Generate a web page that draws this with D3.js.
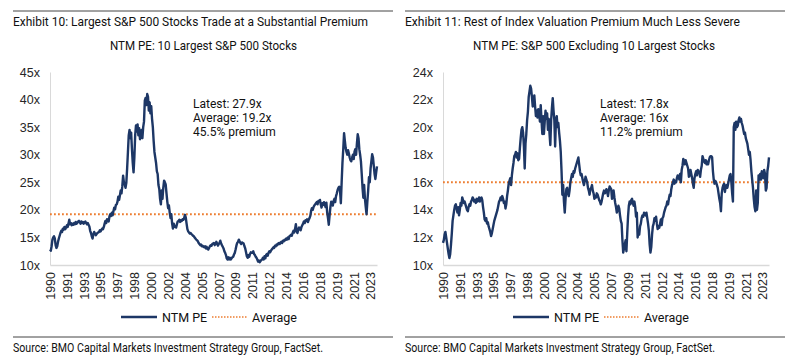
<!DOCTYPE html>
<html>
<head>
<meta charset="utf-8">
<script src="https://cdn.jsdelivr.net/npm/d3@7"></script>
<style>
  body { margin: 0; background: #fff; }
  svg { display: block; font-family: Roboto, "Noto Sans", sans-serif; }
  .tick text { fill: #262626; }
</style>
</head>
<body>
<svg width="800" height="361"></svg>
<script>
// monthly observations, Jan 1990 - Dec 2023
const months = d3.timeMonth.range(new Date(1990, 0, 1), new Date(2024, 0, 1));

// NTM PE: 10 largest S&P 500 stocks (one row per year)
const top10PE = [
  12.8, 12.6, 13.4, 14.6, 15.0, 15.2, 14.8, 13.6, 13.1, 13.4, 14.2, 14.8,
  15.3, 15.8, 16.2, 16.0, 16.6, 16.4, 16.9, 16.5, 16.8, 17.2, 16.9, 17.5,
  18.2, 17.4, 17.6, 17.2, 17.5, 17.3, 17.6, 17.4, 17.8, 17.5, 17.6, 17.9,
  18.0, 17.8, 17.5, 17.9, 17.6, 17.8, 17.5, 17.7, 17.9, 17.6, 17.4, 17.6,
  17.3, 17.0, 16.2, 15.8, 15.2, 14.8, 15.6, 16.0, 15.7, 15.4, 15.6, 15.8,
  15.9, 16.0, 16.3, 16.1, 16.4, 16.6, 16.5, 16.9, 17.5, 18.0, 17.6, 18.3,
  18.2, 17.9, 18.8, 19.2, 18.9, 19.5, 19.0, 19.8, 20.4, 20.1, 20.9, 21.0,
  21.5, 22.4, 21.8, 22.6, 23.5, 23.0, 24.3, 26.2, 25.0, 24.6, 24.0, 24.9,
  27.5, 30.5, 33.5, 34.5, 33.0, 34.0, 31.0, 28.5, 26.8, 29.5, 33.5, 35.3,
  34.2, 35.5, 33.5, 34.8, 32.8, 33.5, 34.5, 33.0, 35.0, 36.0, 39.8, 40.3,
  39.0, 41.0, 40.5, 38.0, 39.5, 37.5, 38.8, 36.5, 35.0, 32.5, 30.5, 29.5,
  28.5, 27.0, 26.5, 24.5, 23.8, 22.0, 21.0, 23.5, 22.0, 24.0, 25.3, 25.0,
  24.6, 23.0, 21.5, 20.3, 20.8, 19.5, 18.5, 19.2, 17.5, 16.6, 17.5, 17.0,
  16.9, 16.8, 17.4, 17.9, 18.0, 18.2, 17.8, 18.1, 18.0, 18.3, 18.2, 18.5,
  19.1, 18.6, 17.5, 16.5, 16.1, 15.9, 15.7, 15.8, 15.6, 15.5, 15.3, 15.2,
  15.0, 14.8, 14.6, 14.5, 14.3, 14.0, 13.8, 13.6, 13.7, 13.4, 13.5, 13.3,
  13.2, 13.4, 13.0, 13.3, 12.9, 12.8, 13.1, 13.4, 13.6, 13.5, 13.8, 13.9,
  14.0, 13.6, 13.8, 14.2, 13.9, 13.5, 13.8, 14.0, 14.4, 13.9, 13.6, 13.3,
  13.0, 12.5, 12.2, 11.8, 11.2, 11.0, 11.4, 11.0, 11.3, 11.0, 11.2, 11.4,
  11.5, 11.9, 12.2, 12.8, 13.5, 14.0, 14.2, 14.6, 14.3, 14.0, 13.8, 14.1,
  14.0, 13.9, 13.4, 13.0, 12.3, 11.6, 11.3, 11.8, 11.5, 12.0, 12.3, 12.2,
  12.2, 12.5, 12.0, 11.8, 11.5, 11.3, 11.0, 10.6, 10.8, 10.5, 10.7, 10.9,
  11.0, 11.3, 11.0, 11.6, 11.2, 11.8, 12.0, 11.7, 12.2, 12.5, 12.3, 12.6,
  12.8, 13.0, 13.2, 13.1, 13.5, 13.4, 13.7, 13.6, 13.9, 14.0, 13.8, 14.1,
  14.2, 14.0, 14.4, 14.3, 14.6, 14.5, 14.8, 14.6, 15.0, 14.7, 15.2, 15.3,
  15.5, 15.3, 15.8, 16.2, 15.9, 16.5, 17.4, 16.2, 15.8, 16.4, 16.8, 16.7,
  16.3, 16.9, 17.2, 17.5, 17.9, 17.6, 18.1, 18.0, 18.3, 17.8, 18.2, 18.5,
  18.9, 19.8, 20.3, 20.0, 20.5, 20.8, 21.0, 21.2, 21.4, 21.0, 21.6, 21.5,
  21.8, 21.0, 20.4, 21.2, 20.9, 21.4, 21.0, 20.5, 21.3, 19.5, 18.5, 17.3,
  19.0, 20.5, 21.5, 21.0, 20.8, 21.6, 22.0, 21.4, 22.5, 23.0, 23.6, 24.0,
  24.2, 23.5, 21.2, 25.0, 28.5, 31.0, 33.9, 32.5, 31.2, 30.5, 30.0, 30.8,
  30.2, 29.5, 29.0, 28.8, 29.5, 30.0, 29.2, 30.5, 31.0, 30.0, 32.0, 33.7,
  33.0, 31.0, 30.0, 28.8, 26.5, 24.0, 22.2, 24.5, 22.0, 20.5, 19.2, 21.5,
  23.5, 25.9, 25.0, 27.5, 28.8, 30.1, 29.5, 28.0, 26.5, 25.6, 26.8, 27.9
];

// NTM PE: S&P 500 excluding the 10 largest stocks
const restPE = [
  11.6, 11.8, 12.2, 12.4, 12.0, 11.6, 11.2, 10.8, 10.5, 10.8, 11.5, 12.3,
  13.2, 13.6, 14.0, 14.3, 14.4, 14.1, 13.8, 14.2, 13.6, 14.0, 14.5, 14.3,
  14.9, 14.7, 14.5, 14.6, 14.4, 14.2, 14.0, 13.9, 14.2, 14.4, 14.3, 14.6,
  14.7, 14.9, 14.8, 14.6, 14.7, 14.5, 14.8, 14.6, 14.7, 14.9, 14.6, 14.8,
  14.9, 14.7, 14.2, 13.8, 13.3, 13.2, 13.4, 13.0, 13.1, 12.8, 12.6, 12.4,
  12.1, 12.3, 12.6, 12.9, 13.2, 13.4, 13.6, 13.8, 14.0, 14.3, 14.6, 14.7,
  14.9, 14.7, 15.0, 14.8, 14.5, 14.6, 14.1, 14.4, 15.0, 15.4, 15.9, 16.1,
  16.3, 15.8, 16.5, 17.0, 17.4, 17.9, 18.0, 18.2, 17.8, 18.1, 17.6, 17.7,
  18.5, 19.2, 19.8, 20.0, 19.6, 18.6, 17.0, 18.8, 19.5, 20.5, 21.1, 22.2,
  22.6, 23.0, 22.8, 22.2, 21.5, 21.9, 22.3, 21.5, 20.8, 21.2, 20.7, 21.3,
  21.0, 20.4, 21.6, 20.5, 19.5, 20.8, 19.5, 20.4, 21.2, 20.6, 21.0, 19.8,
  20.6, 19.5, 18.7, 20.5, 21.4, 22.1, 21.2, 20.5, 18.6, 20.5, 20.8, 20.0,
  20.3, 19.6, 19.0, 18.2, 16.8, 15.1, 15.8, 14.6, 13.8, 14.8, 15.5, 15.6,
  15.2, 15.0, 15.4, 16.0, 16.3, 16.6, 16.4, 16.8, 16.7, 17.0, 17.2, 17.4,
  17.6, 17.8, 17.3, 16.8, 16.5, 16.6, 16.3, 16.0, 15.8, 16.1, 16.4, 16.2,
  16.0, 15.6, 15.4, 15.1, 15.5, 15.6, 15.8, 15.4, 15.2, 14.8, 15.0, 14.9,
  15.2, 15.1, 14.9, 14.7, 14.6, 14.4, 14.6, 14.9, 15.2, 15.4, 15.2, 15.3,
  15.5, 15.3, 15.0, 15.4, 15.7, 15.6, 15.5, 14.8, 15.0, 15.4, 14.9, 14.5,
  14.2, 13.8, 14.0, 14.3, 14.1, 13.6, 13.2, 13.0, 11.8, 10.9, 11.2, 11.5,
  11.8, 11.0, 12.3, 13.5, 14.3, 14.6, 14.4, 14.7, 14.8, 14.5, 14.3, 14.6,
  14.2, 13.5, 13.8, 12.0, 12.5, 12.2, 12.8, 13.0, 13.4, 13.6, 13.5, 13.8,
  13.7, 13.6, 13.8, 13.4, 13.0, 12.5, 11.5, 10.9, 11.3, 12.2, 12.8, 13.0,
  13.4, 13.2, 13.5, 13.0, 12.6, 12.8, 12.7, 13.0, 13.3, 12.9, 13.4, 13.5,
  13.8, 14.0, 14.2, 14.3, 14.6, 14.4, 14.8, 15.1, 15.0, 15.5, 15.8, 16.0,
  16.2, 15.9, 16.1, 16.0, 16.3, 16.5, 16.4, 16.2, 16.6, 16.0, 16.9, 17.2,
  17.7, 17.5, 17.3, 17.6, 17.4, 17.2, 17.0, 16.4, 16.5, 16.9, 16.6, 16.3,
  15.9, 15.6, 16.3, 16.6, 16.8, 16.5, 16.9, 16.8, 16.7, 16.4, 16.9, 17.2,
  17.9, 17.7, 17.5, 17.4, 17.6, 17.3, 17.5, 17.3, 17.6, 17.8, 17.9, 17.9,
  17.8, 16.8, 16.2, 15.9, 16.1, 16.0, 15.8, 15.6, 15.2, 14.8, 14.5, 13.9,
  15.2, 15.6, 15.8, 15.9, 15.3, 15.7, 15.8, 15.6, 15.9, 16.2, 16.5, 16.6,
  16.0, 15.2, 14.6, 20.0, 20.3, 19.8, 20.4, 20.0, 20.1, 20.5, 20.7, 20.4,
  20.6, 20.3, 20.1, 19.8, 19.5, 19.6, 19.2, 19.0, 18.8, 18.4, 18.0, 18.2,
  17.6, 16.8, 16.2, 15.6, 14.8, 14.2, 13.9, 15.4, 14.0, 14.5, 16.5, 16.2,
  16.6, 16.2, 16.8, 16.5, 16.3, 16.9, 16.6, 15.4, 15.6, 16.8, 17.2, 17.8
];

const leftTicks = [10, 15, 20, 25, 30, 35, 40, 45];
const rightTicks = [10, 12, 14, 16, 18, 20, 22, 24];
const leftAverage = 19.2;
const rightAverage = 16;
const leftNotes = ['Latest: 27.9x', 'Average: 19.2x', '45.5% premium'];
const rightNotes = ['Latest: 17.8x', 'Average: 16x', '11.2% premium'];
const legendLabels = ['NTM PE', 'Average'];
const sourceText = 'Source: BMO Capital Markets Investment Strategy Group, FactSet.';

// a year label every 21 months, as in the original axis
const xTickMonths = months.filter((d, i) => i % 21 === 0);

const navy = '#1d3766';
const orange = '#ed7d31';
const svg = d3.select('svg');

function drawPanel(cfg) {
  const g = svg.append('g');

  const x = d3.scalePoint()
    .domain(months)
    .range([cfg.left, cfg.right]);

  const y = d3.scaleLinear()
    .domain(cfg.yDomain)
    .range([265, 72]);

  // header rule + titles
  g.append('line')
    .attr('x1', cfg.ruleX[0]).attr('x2', cfg.ruleX[1])
    .attr('y1', 11).attr('y2', 11)
    .attr('stroke', '#444').attr('stroke-width', 1);

  g.append('text')
    .attr('x', cfg.ruleX[0])
    .attr('y', 26)
    .attr('font-size', 12.5)
    .attr('fill', '#111')
    .attr('textLength', cfg.titleWidth)
    .attr('lengthAdjust', 'spacingAndGlyphs')
    .text(cfg.title);

  g.append('text')
    .attr('x', cfg.subX)
    .attr('y', 50)
    .attr('text-anchor', 'middle')
    .attr('font-size', 13)
    .attr('fill', '#111')
    .attr('textLength', cfg.subWidth)
    .attr('lengthAdjust', 'spacingAndGlyphs')
    .text(cfg.subtitle);

  // axes
  const yAxis = g.append('g')
    .attr('transform', `translate(${cfg.left}, 0)`)
    .call(d3.axisLeft(y).tickValues(cfg.yTicks).tickFormat(d => d + 'x').tickSize(0).tickPadding(10));
  yAxis.select('.domain').attr('stroke', '#d9d9d9');
  yAxis.selectAll('text').attr('font-size', 12.5).style('font-family', null);

  const xAxis = g.append('g')
    .attr('transform', 'translate(0, 265)')
    .call(d3.axisBottom(x).tickValues(xTickMonths).tickFormat(d3.timeFormat('%Y')).tickSize(0));
  xAxis.select('.domain').attr('stroke', '#d9d9d9').attr('stroke-width', 1.5);
  xAxis.selectAll('text')
    .attr('font-size', 12.5)
    .style('font-family', null)
    .attr('transform', 'rotate(-90)')
    .attr('x', -7)
    .attr('y', 0)
    .attr('dy', '0.35em')
    .attr('text-anchor', 'end');

  // average line
  g.append('line')
    .attr('x1', x(months[0]))
    .attr('x2', x(months[months.length - 1]))
    .attr('y1', y(cfg.average))
    .attr('y2', y(cfg.average))
    .attr('stroke', orange)
    .attr('stroke-width', 2)
    .attr('stroke-dasharray', '1.8,2.2');

  // PE series
  g.append('path')
    .datum(cfg.values)
    .attr('fill', 'none')
    .attr('stroke', navy)
    .attr('stroke-width', 2.4)
    .attr('stroke-linejoin', 'round')
    .attr('d', d3.line()
      .x((d, i) => x(months[i]))
      .y(d => y(d)));

  // annotation
  g.append('g')
    .selectAll('text')
    .data(cfg.notes)
    .join('text')
    .attr('x', cfg.noteX)
    .attr('y', (d, i) => 108 + i * 14)
    .attr('font-size', 12)
    .attr('fill', '#111')
    .text(d => d);

  // legend
  const lx = cfg.legendX;
  g.append('line')
    .attr('x1', lx).attr('x2', lx + 36)
    .attr('y1', 317).attr('y2', 317)
    .attr('stroke', navy).attr('stroke-width', 2.4);
  g.append('text')
    .attr('x', lx + 41).attr('y', 321.5)
    .attr('font-size', 12.5).attr('fill', '#111')
    .text(legendLabels[0]);
  g.append('line')
    .attr('x1', lx + 91).attr('x2', lx + 127)
    .attr('y1', 317).attr('y2', 317)
    .attr('stroke', orange).attr('stroke-width', 1.5)
    .attr('stroke-dasharray', '1.5,1.5');
  g.append('text')
    .attr('x', lx + 131).attr('y', 321.5)
    .attr('font-size', 12.5).attr('fill', '#111')
    .text(legendLabels[1]);

  // footer
  g.append('line')
    .attr('x1', cfg.ruleX[0]).attr('x2', cfg.ruleX[1])
    .attr('y1', 337).attr('y2', 337)
    .attr('stroke', '#444').attr('stroke-width', 1);
  g.append('text')
    .attr('x', cfg.ruleX[0])
    .attr('y', 352)
    .attr('font-size', 12.5)
    .attr('fill', '#111')
    .attr('textLength', 310)
    .attr('lengthAdjust', 'spacingAndGlyphs')
    .text(sourceText);
}

drawPanel({
  left: 50, right: 377,
  ruleX: [13, 393],
  title: 'Exhibit 10: Largest S&P 500 Stocks Trade at a Substantial Premium',
  titleWidth: 355,
  subtitle: 'NTM PE: 10 Largest S&P 500 Stocks',
  subX: 203.5, subWidth: 187,
  yDomain: [10, 45], yTicks: leftTicks,
  values: top10PE, average: leftAverage,
  notes: leftNotes, noteX: 193,
  legendX: 121
});

drawPanel({
  left: 443, right: 769,
  ruleX: [405, 785],
  title: 'Exhibit 11: Rest of Index Valuation Premium Much Less Severe',
  titleWidth: 335,
  subtitle: 'NTM PE: S&P 500 Excluding 10 Largest Stocks',
  subX: 594, subWidth: 242,
  yDomain: [10, 24], yTicks: rightTicks,
  values: restPE, average: rightAverage,
  notes: rightNotes, noteX: 600,
  legendX: 513
});
</script>
</body>
</html>
